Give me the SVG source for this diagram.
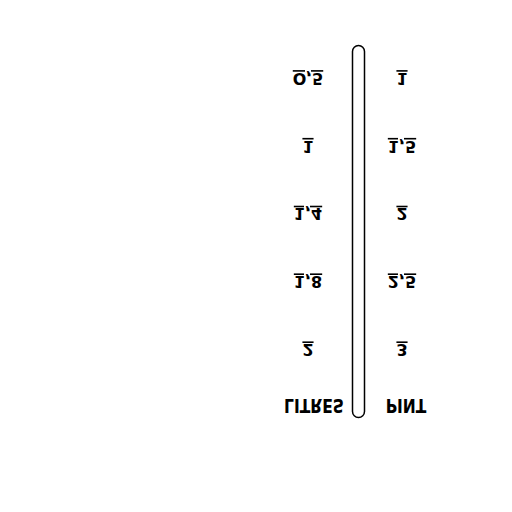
<svg xmlns="http://www.w3.org/2000/svg" width="512" height="512" viewBox="0 0 512 512">
<style>
.t{font-family:"DejaVu Sans",Verdana,sans-serif;font-weight:bold;font-size:16px;fill:#000;text-anchor:middle}
.u{text-decoration:underline}
.h{font-size:15.5px}
</style>
<rect width="512" height="512" fill="#fff"/>
<g id="tube"><rect x="352.5" y="45.5" width="12" height="372" rx="6" fill="none" stroke="#000" stroke-width="1.5"/></g>
<g id="labels" transform="matrix(1,0,0,-1,0,512)">
<g id="left">
<text class="t u" x="308" y="439.3">O,5</text>
<text class="t u" x="308" y="371.5">1</text>
<text class="t u" x="308" y="303.7">1,4</text>
<text class="t u" x="308" y="236">1,8</text>
<text class="t u" x="308" y="168">2</text>
<text class="t h" transform="translate(314,113) scale(1,1.3)" x="0" y="0">LITRES</text>
</g>
<g id="right">
<text class="t u" x="402" y="439.3">1</text>
<text class="t u" x="402" y="371.5">1,5</text>
<text class="t u" x="402" y="303.7">2</text>
<text class="t u" x="402" y="236">2,5</text>
<text class="t u" x="402" y="168">3</text>
<text class="t h" transform="translate(406,113) scale(1,1.3)" x="0" y="0">PINT</text>
</g>
</g>
</svg>
